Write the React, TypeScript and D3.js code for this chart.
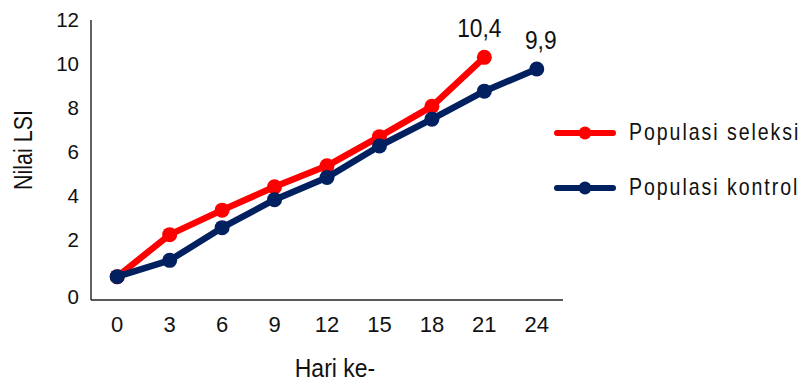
import React from "react";
import * as d3 from "d3";

const days = [0, 3, 6, 9, 12, 15, 18, 21, 24];
const seleksi = [1.0, 2.8, 3.85, 4.85, 5.75, 7.0, 8.3, 10.4];
const kontrol = [1.0, 1.7, 3.1, 4.3, 5.25, 6.6, 7.75, 8.95, 9.9];
const yTicks = [0, 2, 4, 6, 8, 10, 12];
const seriesNames = ["Populasi seleksi", "Populasi kontrol"];
const seriesColors = ["#ff0000", "#002060"];
const annotations = ["10,4", "9,9"];

const W = 803;
const H = 383;
const FONT = "'Liberation Sans', Arial, sans-serif";

type NProps = {
  x: number;
  y: number;
  size: number;
  sx?: number;
  rot?: number;
  anchor?: "start" | "middle" | "end";
  spacing?: number;
  children: React.ReactNode;
};

function NText({ x, y, size, sx = 1, rot = 0, anchor = "start", spacing = 0, children }: NProps) {
  return (
    <text
      transform={`translate(${x},${y}) rotate(${rot}) scale(${sx},1)`}
      textAnchor={anchor}
      fontSize={size}
      letterSpacing={spacing}
      fill="#111"
    >
      {children}
    </text>
  );
}

export default function App() {
  const x = d3.scalePoint<number>().domain(days).range([91, 563]).padding(0.5);
  const y = d3.scaleLinear().domain([0, 12]).range([300, 20]);
  // tick labels in the source sit on their own (uneven) grid
  const yLab = d3.scaleLinear().domain([0, 2, 12]).range([296, 239, 19]);

  const line = d3
    .line<number>()
    .x((_, i) => x(days[i]) as number)
    .y((d) => y(d));

  const series = [seleksi, kontrol];
  const annDx = [-5, 4];

  return (
    <svg
      width={W}
      height={H}
      style={{ position: "absolute", left: 0, top: 0, background: "#fff" }}
      fontFamily={FONT}
    >
      {/* axes */}
      <line x1={91} x2={91} y1={y(12)} y2={y(0)} stroke="#222" strokeWidth={1.4} />
      <line x1={91} x2={563} y1={y(0)} y2={y(0)} stroke="#222" strokeWidth={1.4} />

      {yTicks.map((t) => (
        <NText key={t} x={79} y={yLab(t) + 7.5} size={20.5} anchor="end">
          {t}
        </NText>
      ))}
      {days.map((d) => (
        <NText key={d} x={x(d) as number} y={332} size={22} anchor="middle">
          {d}
        </NText>
      ))}

      <NText x={32} y={150} rot={-90} size={25} sx={0.86} anchor="middle">
        Nilai LSI
      </NText>
      <NText x={335} y={377} size={25} sx={0.92} anchor="middle">
        Hari ke-
      </NText>

      {series.map((s, si) => (
        <g key={si}>
          <path
            d={line(s) || ""}
            fill="none"
            stroke={seriesColors[si]}
            strokeWidth={6.5}
            strokeLinejoin="round"
          />
          {s.map((v, i) => (
            <circle key={i} cx={x(days[i])} cy={y(v)} r={7.5} fill={seriesColors[si]} />
          ))}
        </g>
      ))}

      {series.map((s, si) => {
        const last = s.length - 1;
        return (
          <NText
            key={si}
            x={(x(days[last]) as number) + annDx[si]}
            y={y(s[last]) - 20}
            size={25}
            sx={0.91}
            anchor="middle"
          >
            {annotations[si]}
          </NText>
        );
      })}

      {seriesNames.map((n, i) => {
        const ly = 133 + i * 55;
        return (
          <g key={n}>
            <line x1={557} x2={613} y1={ly} y2={ly} stroke={seriesColors[i]} strokeWidth={6} strokeLinecap="round" />
            <circle cx={585} cy={ly} r={6.5} fill={seriesColors[i]} />
            <NText x={629} y={ly + 6.5} size={23} sx={0.85} spacing={2.3}>
              {n}
            </NText>
          </g>
        );
      })}
    </svg>
  );
}
